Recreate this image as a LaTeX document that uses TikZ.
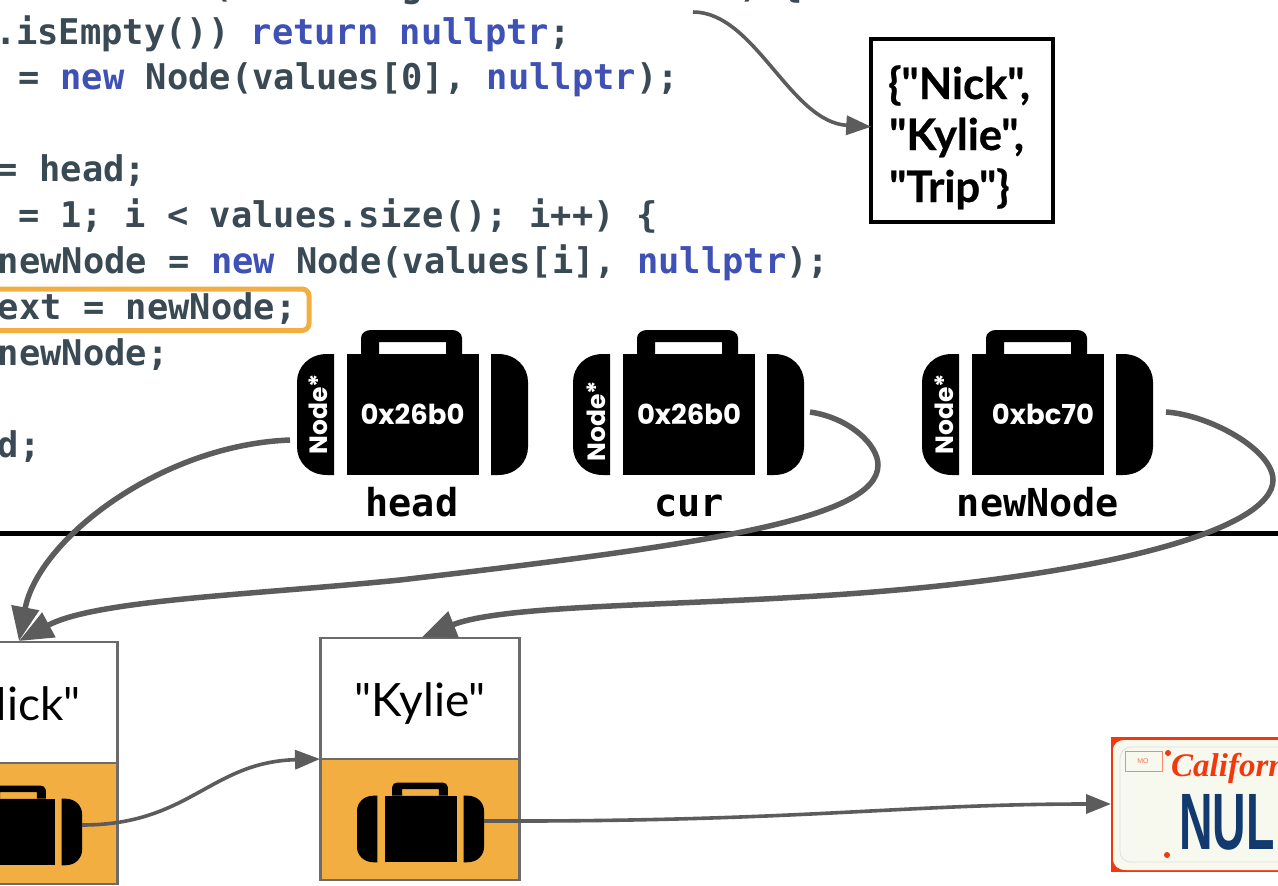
\documentclass[tikz,border=0pt]{standalone}
\usepackage{fontspec}
\usetikzlibrary{arrows.meta,calc}
\newfontfamily\codefont{DejaVu Sans Mono}[BoldFont={DejaVu Sans Mono Bold}]
\newfontfamily\labfont{Poppins}
\newfontfamily\bodyfont{Lato}
\newfontfamily\heavyfont{Lato}[BoldFeatures={FakeBold=0.6}]
\newfontfamily\platefont{Liberation Sans}
\newfontfamily\calfont{Liberation Serif}
\newcommand{\fsz}[1]{\fontsize{#1}{#1}\selectfont}
\newcommand{\kw}[1]{\textcolor{kwblue}{#1}}
\definecolor{codegray}{HTML}{3A4A54}
\definecolor{kwblue}{HTML}{3F51B5}
\definecolor{hilite}{HTML}{F2AE40}
\definecolor{wire}{HTML}{5C5C5C}
\definecolor{boxline}{HTML}{6B6B6B}
\definecolor{platered}{HTML}{F4380E}
\definecolor{platecream}{HTML}{F7F8EE}
\definecolor{plateblue}{HTML}{123A6E}
\tikzset{
  code/.style={anchor=base west,inner sep=0pt,outer sep=0pt,text=codegray,font=\codefont\bfseries\fsz{35.4}},
  varname/.style={anchor=base,inner sep=0pt,font=\codefont\bfseries\fsz{38.5}},
  addr/.style={anchor=center,inner sep=0pt,text=white,font=\labfont\fsz{27.5}\bfseries},
  ptype/.style={anchor=center,inner sep=0pt,text=white,rotate=90,font=\labfont\fsz{25}\bfseries},
  inputline/.style={anchor=base west,inner sep=0pt,font=\heavyfont\bfseries\fsz{43.5}},
  cellbox/.style={draw=boxline,line width=2.6pt,minimum width=199.5pt,inner sep=0pt},
  strcell/.style={cellbox,fill=white,minimum height=121pt,font=\bodyfont\fsz{46}},
  ptrcell/.style={cellbox,fill=hilite,minimum height=121pt},
  wirethick/.style={draw=wire,line width=5.5pt,-{Triangle[length=34pt,width=27pt]}},
  wirethin/.style={draw=wire,line width=3.6pt,-{Triangle[length=25pt,width=19pt]}},
  pics/suitcase/.style={code={
    % origin at the top left of the case; case is 231 x 145
    \fill[black,even odd rule] (64,24) -- (64,8) .. controls (64,3) and (69,0) .. (74,0) -- (155,0)
       .. controls (160,0) and (165,3) .. (165,8) -- (165,24) -- cycle
       (82,12) rectangle (149,24);
    \fill[black] (50,24) rectangle (182,145);
    \fill[black] (37,24) -- (37,145) -- (30,145) .. controls (12,145) and (0,132) .. (0,117) -- (0,52)
       .. controls (0,37) and (12,24) .. (30,24) -- cycle;
    \fill[black] (194,24) -- (194,145) -- (201,145) .. controls (219,145) and (231,132) .. (231,117) -- (231,52)
       .. controls (231,37) and (219,24) .. (201,24) -- cycle;
  }}
}
\begin{document}
\begin{tikzpicture}[x=1pt,y=-1pt]
\clip (0,0) rectangle (1278,886);
\fill[white] (0,0) rectangle (1278,886);

% code
\node[code] (t1) at (211,-2) {(};
\node[code] (t2) at (401,-2) {g};
\node[code] (t3) at (739,-2) {) \{};
\node[code] (l1) at (-5,44) {.isEmpty()) \kw{return nullptr};};
\node[code] (l2) at (18,89.5) {= \kw{new} Node(values[0], \kw{nullptr});};
\node[code] (l3) at (-3,181.5) {= head;};
\node[code] (l4) at (18,227.5) {= 1; i < values.size(); i++) \{};
\node[code] (l5) at (-2,273.5) {newNode = \kw{new} Node(values[i], \kw{nullptr});};
\node[code] (l6) at (-2,319) {ext = newNode;};
\node[code] (l7) at (-2,365) {newNode;};
\node[code] (l8) at (-2,457) {d;};
\draw[hilite,line width=5pt,rounded corners=7pt] (-20,289) rectangle (309,330.5);

% input box
\node[draw=black,line width=3.5pt,minimum width=182pt,minimum height=183pt,inner sep=0pt] (input) at (962,130.5) {};
\node[inputline] (in1) at (888,99) {\{"Nick",};
\node[inputline] (in2) at (889,150) {"Kylie",};
\node[inputline] (in3) at (889,202) {"Trip"\}};

% divider
\coordinate (divl) at (0,533);
\coordinate (divr) at (1278,533);
\draw[black,line width=5pt] (divl) -- (divr);

% stack variables
\pic at (297,330) {suitcase};
\pic at (573,330) {suitcase};
\pic at (922,330) {suitcase};
\node[addr] (a1) at (412.5,414) {0x26b0};
\node[addr] (a2) at (689,414) {0x26b0};
\node[addr] (a3) at (1043,414) {0xbc70};
\node[ptype] (p1) at (318.5,414) {Node*};
\node[ptype] (p2) at (596.5,421) {Node*};
\node[ptype] (p3) at (944.5,414) {Node*};
\node[varname] (head) at (412,516) {head};
\node[varname] (cur) at (689,516) {cur};
\node[varname] (newnode) at (1038,516) {newNode};
\coordinate (headout) at (290,440);
\coordinate (curout) at (810,412);
\coordinate (newout) at (1166,412);

% heap nodes
\node[strcell] (nick) at (18,702.5) {\raisebox{-17.5pt}[0pt][0pt]{"Nick"}};
\node[ptrcell] (nickp) at (18,823.5) {};
\node[strcell] (kylie) at (420,698.5) {\raisebox{-17.5pt}[0pt][0pt]{"Kylie"}};
\node[ptrcell] (kyliep) at (420,819.5) {};
\pic[scale=.55] at (-45,785.5) {suitcase};
\pic[scale=.55] at (357,782.5) {suitcase};
\coordinate (nickout) at (82,825);
\coordinate (kylieout) at (484,821);
\coordinate (nicktop) at (19,641);
\coordinate (kylietop) at (422,637);
\coordinate (kyliein) at (320,759);

% license plate
\fill[platered] (1111,737) rectangle (1290,872);
\fill[platecream] (1113,751) .. controls (1113,743) and (1118,740) .. (1126,740) -- (1290,740) -- (1290,870) -- (1126,870)
   .. controls (1118,870) and (1113,866) .. (1113,858) -- cycle;
\draw[black!12,line width=.8pt] (1120,760) .. controls (1120,752) and (1124,747) .. (1132,747) -- (1290,747)
   (1120,760) -- (1120,850) .. controls (1120,858) and (1124,862) .. (1132,862) -- (1290,862);
\draw[platered!60,line width=1pt] (1125,751) rectangle (1162,771);
\node[inner sep=0pt,text=platered!70,font=\platefont\fsz{7}] (mo) at (1143,761) {MO};
\fill[platered] (1168,753) circle (3pt);
\fill[platered] (1167,855) circle (3pt);
\node[anchor=base west,inner sep=0pt,text=platered,font=\calfont\bfseries\itshape\fsz{33}] (calif) at (1171,776) {California};
\node[anchor=base west,inner sep=0pt,text=plateblue,font=\platefont\bfseries\fsz{80},xscale=.58] (nul) at (1179,849) {NUL};
\coordinate (platein) at (1111,804);

% connectors
\coordinate (argout) at (693,12);
\coordinate (inputin) at ($(input.north west)!.48!(input.south west)$);
\draw[wirethin] (argout) .. controls (755,12) and (790,122) .. ([xshift=2pt]inputin);
\draw[wirethick] (headout) .. controls (160,445) and (38,540) .. (nicktop);
\draw[wirethick] (curout) .. controls (850,418) and (878,445) .. (878,465) .. controls (878,520) and (700,545) .. (400,580) .. controls (250,595) and (95,600) .. (nicktop);
\draw[wirethick] (newout) .. controls (1210,415) and (1273,450) .. (1273,480) .. controls (1273,530) and (1100,580) .. (800,597) .. controls (650,606) and (500,606) .. (kylietop);
\draw[wirethin] (nickout) .. controls (190,825) and (210,762) .. (kyliein);
\draw[wirethin] (kylieout) .. controls (800,822) and (900,804) .. (platein);
\end{tikzpicture}
\end{document}
